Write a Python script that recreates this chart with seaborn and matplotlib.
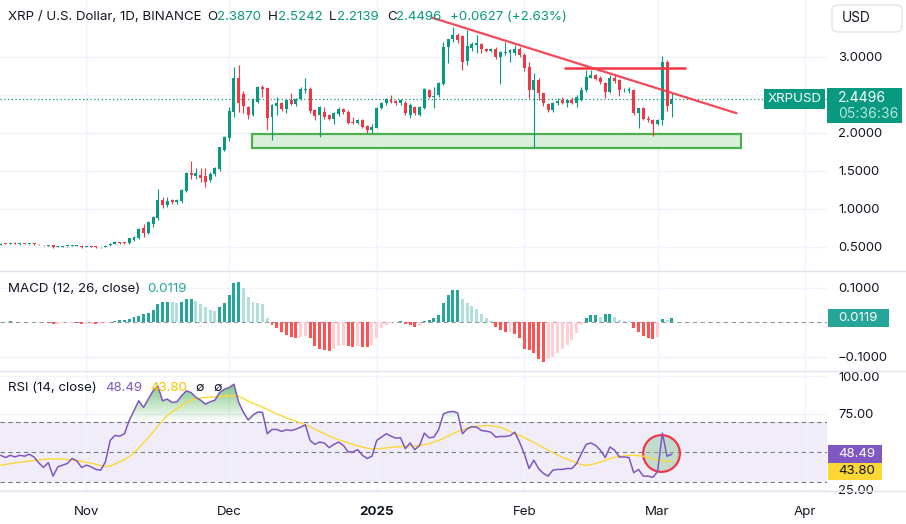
import numpy as np
import pandas as pd
import matplotlib
matplotlib.use('Agg')
import matplotlib.pyplot as plt
import seaborn as sns
from matplotlib.patches import Rectangle, FancyBboxPatch
from matplotlib.path import Path
from matplotlib.lines import Line2D

# daily candles, first one is 2024-10-14
first_day = '2024-10-14'
opens = [0.528, 0.548, 0.540, 0.547, 0.538, 0.542, 0.536, 0.541, 0.537, 0.527,
         0.515, 0.528, 0.502, 0.504, 0.511, 0.513, 0.516, 0.519, 0.505, 0.510,
         0.505, 0.494, 0.503, 0.520, 0.545, 0.560, 0.555, 0.549, 0.595, 0.614,
         0.746, 0.680, 0.800, 0.880, 1.118, 1.053, 1.115, 1.090, 1.100, 1.240,
         1.480, 1.440, 1.450, 1.430, 1.380, 1.460, 1.520, 1.780, 1.940, 2.280,
         2.724, 2.510, 2.340, 2.237, 2.412, 2.601, 2.588, 2.206, 2.355, 2.390,
         2.311, 2.430, 2.380, 2.443, 2.560, 2.580, 2.300, 2.240, 2.280, 2.237,
         2.190, 2.250, 2.310, 2.280, 2.150, 2.136, 2.170, 2.090, 2.040, 2.070,
         2.325, 2.390, 2.447, 2.420, 2.390, 2.400, 2.237, 2.340, 2.237, 2.325,
         2.566, 2.480, 2.500, 2.645, 3.136, 3.232, 3.290, 3.270, 2.950, 3.120,
         3.160, 3.170, 3.100, 3.080, 3.110, 3.000, 3.050, 3.050, 3.050, 3.110,
         3.030, 2.870, 2.566, 2.700, 2.520, 2.380, 2.300, 2.390, 2.430, 2.390,
         2.430, 2.400, 2.430, 2.560, 2.730, 2.760, 2.730, 2.660, 2.540, 2.730,
         2.700, 2.560, 2.555, 2.570, 2.260, 2.325, 2.190, 2.170, 2.120, 2.170,
         2.940, 2.3870]
highs = [0.550, 0.555, 0.550, 0.560, 0.548, 0.548, 0.545, 0.548, 0.542, 0.532,
         0.522, 0.530, 0.512, 0.512, 0.518, 0.520, 0.522, 0.522, 0.515, 0.512,
         0.508, 0.506, 0.520, 0.550, 0.575, 0.562, 0.560, 0.620, 0.640, 0.745,
         0.800, 0.840, 0.910, 1.263, 1.160, 1.160, 1.130, 1.130, 1.260, 1.490,
         1.630, 1.540, 1.540, 1.535, 1.490, 1.550, 1.820, 1.960, 2.346, 2.870,
         2.890, 2.550, 2.360, 2.456, 2.618, 2.630, 2.600, 2.380, 2.478, 2.410,
         2.450, 2.520, 2.460, 2.600, 2.720, 2.600, 2.320, 2.360, 2.340, 2.250,
         2.270, 2.340, 2.330, 2.300, 2.210, 2.190, 2.180, 2.100, 2.120, 2.340,
         2.410, 2.460, 2.500, 2.440, 2.450, 2.420, 2.400, 2.360, 2.360, 2.590,
         2.580, 2.600, 2.670, 3.200, 3.240, 3.400, 3.320, 3.290, 3.355, 3.200,
         3.290, 3.190, 3.120, 3.120, 3.130, 3.080, 3.200, 3.100, 3.160, 3.130,
         3.050, 2.940, 2.790, 2.720, 2.530, 2.400, 2.410, 2.460, 2.480, 2.450,
         2.470, 2.500, 2.610, 2.830, 2.830, 2.780, 2.750, 2.670, 2.760, 2.760,
         2.710, 2.590, 2.600, 2.580, 2.330, 2.340, 2.220, 2.180, 2.180, 3.010,
         2.960, 2.5242]
lows = [0.520, 0.535, 0.535, 0.535, 0.532, 0.535, 0.532, 0.532, 0.530, 0.515,
        0.510, 0.490, 0.498, 0.498, 0.505, 0.510, 0.512, 0.488, 0.500, 0.498,
        0.490, 0.490, 0.500, 0.515, 0.535, 0.545, 0.540, 0.545, 0.583, 0.610,
        0.636, 0.670, 0.760, 0.860, 1.010, 1.030, 1.070, 1.070, 1.080, 1.220,
        1.390, 1.400, 1.350, 1.285, 1.350, 1.440, 1.500, 1.760, 1.900, 2.210,
        2.280, 2.260, 2.180, 2.230, 2.400, 2.478, 2.039, 1.908, 2.237, 2.290,
        2.260, 2.370, 2.360, 2.430, 2.520, 2.260, 2.170, 1.950, 2.190, 2.170,
        2.120, 2.230, 2.250, 2.120, 2.120, 2.120, 2.070, 1.996, 1.996, 2.060,
        2.310, 2.370, 2.390, 2.370, 2.370, 2.240, 2.200, 2.240, 2.220, 2.310,
        2.460, 2.330, 2.480, 2.630, 2.925, 3.200, 3.180, 2.830, 2.900, 3.080,
        3.050, 3.050, 3.060, 3.060, 2.980, 2.650, 3.030, 2.940, 3.030, 3.000,
        2.820, 2.460, 1.800, 2.430, 2.355, 2.280, 2.280, 2.370, 2.380, 2.340,
        2.380, 2.340, 2.420, 2.540, 2.720, 2.700, 2.640, 2.460, 2.520, 2.660,
        2.490, 2.540, 2.530, 2.240, 2.060, 2.170, 2.150, 1.960, 2.100, 2.100,
        2.290, 2.2139]
closes = [0.545, 0.540, 0.547, 0.540, 0.543, 0.538, 0.539, 0.535, 0.533, 0.520,
          0.518, 0.500, 0.508, 0.509, 0.514, 0.517, 0.519, 0.494, 0.512, 0.502,
          0.496, 0.503, 0.517, 0.545, 0.560, 0.550, 0.548, 0.614, 0.628, 0.733,
          0.680, 0.833, 0.900, 1.118, 1.053, 1.105, 1.090, 1.120, 1.250, 1.480,
          1.450, 1.470, 1.410, 1.360, 1.460, 1.540, 1.810, 1.950, 2.290, 2.724,
          2.390, 2.350, 2.240, 2.443, 2.601, 2.583, 2.202, 2.368, 2.390, 2.311,
          2.434, 2.380, 2.443, 2.575, 2.580, 2.294, 2.220, 2.340, 2.210, 2.190,
          2.260, 2.310, 2.270, 2.136, 2.136, 2.171, 2.083, 2.040, 2.083, 2.325,
          2.390, 2.447, 2.410, 2.390, 2.434, 2.260, 2.368, 2.260, 2.338, 2.575,
          2.478, 2.490, 2.654, 3.136, 3.232, 3.294, 3.220, 2.930, 3.150, 3.170,
          3.180, 3.100, 3.080, 3.100, 3.000, 3.060, 3.070, 3.090, 3.110, 3.020,
          2.850, 2.566, 2.700, 2.520, 2.390, 2.300, 2.400, 2.420, 2.390, 2.440,
          2.390, 2.480, 2.570, 2.740, 2.760, 2.710, 2.670, 2.540, 2.730, 2.680,
          2.570, 2.570, 2.575, 2.260, 2.325, 2.180, 2.170, 2.120, 2.170, 2.940,
          2.360, 2.4496]

macd_hist = [0.002, 0.002, 0.0025, 0.002, 0.002, 0.0015, 0.0015, 0.001, 0.001, 0.0005,
             -0.001, -0.004, -0.0035, -0.003, -0.0025, -0.002, -0.003, -0.005, -0.0045, -0.004,
             -0.005, -0.0045, -0.002, 0.001, 0.004, 0.007, 0.008, 0.010, 0.014, 0.019,
             0.023, 0.028, 0.036, 0.052, 0.058, 0.060, 0.059, 0.057, 0.058, 0.067,
             0.068, 0.062, 0.053, 0.043, 0.036, 0.034, 0.043, 0.057, 0.079, 0.114,
             0.117, 0.100, 0.074, 0.058, 0.055, 0.052, 0.012, -0.008, -0.017, -0.027,
             -0.038, -0.044, -0.046, -0.043, -0.039, -0.046, -0.070, -0.076, -0.080, -0.083,
             -0.077, -0.070, -0.066, -0.070, -0.071, -0.069, -0.071, -0.073, -0.066, -0.045,
             -0.017, -0.008, -0.002, 0.002, 0.004, -0.006, -0.008, -0.013, -0.011, 0.004,
             0.008, 0.012, 0.021, 0.055, 0.079, 0.094, 0.095, 0.068, 0.057, 0.048,
             0.039, 0.024, 0.012, 0.004, -0.013, -0.022, -0.028, -0.027, -0.034, -0.046,
             -0.078, -0.080, -0.090, -0.107, -0.114, -0.107, -0.100, -0.090, -0.077, -0.066,
             -0.051, -0.032, -0.008, 0.012, 0.021, 0.022, 0.016, 0.023, 0.024, 0.014,
             0.007, 0.005, 0.003, -0.017, -0.027, -0.039, -0.046, -0.048, -0.044, 0.009,
             0.008, 0.0119]

rsi = [47.8, 46.3, 47.8, 46.7, 47.8, 47.2, 48.5, 46.7, 42.8, 39.8,
       43.0, 34.1, 40.2, 41.3, 42.4, 45.7, 44.1, 39.8, 41.3, 40.2,
       38.5, 38.0, 43.5, 57.6, 60.9, 60.4, 62.0, 70.7, 77.2, 83.7,
       79.3, 84.8, 90.2, 93.5, 83.7, 84.8, 82.6, 83.0, 87.0, 90.2,
       89.1, 85.9, 84.1, 81.5, 83.0, 84.1, 89.1, 91.3, 92.4, 94.6,
       82.6, 76.1, 71.0, 74.3, 76.3, 76.1, 62.0, 64.8, 64.8, 63.5,
       64.6, 64.1, 65.0, 66.3, 67.8, 57.6, 55.0, 56.5, 55.9, 52.8,
       55.0, 56.5, 54.3, 50.0, 50.0, 51.5, 47.8, 45.7, 47.2, 57.6,
       59.8, 62.0, 60.4, 59.1, 59.3, 52.2, 55.9, 51.5, 54.3, 62.4,
       59.3, 59.8, 64.6, 75.0, 76.3, 76.7, 75.7, 62.0, 65.2, 66.7,
       66.3, 64.1, 63.7, 63.0, 59.8, 60.2, 60.2, 60.7, 63.0, 56.5,
       48.9, 39.1, 44.6, 39.1, 35.9, 34.1, 38.0, 38.5, 38.5, 39.1,
       39.1, 42.4, 48.9, 55.0, 55.9, 54.3, 51.1, 46.3, 53.3, 51.1,
       46.7, 46.7, 46.3, 36.3, 38.5, 34.1, 34.1, 33.3, 37.0, 62.4,
       47.2, 48.49]
rsi_ma = [41.3, 41.8, 42.3, 42.8, 43.2, 43.6, 44.0, 44.4, 44.8, 45.1,
          45.4, 45.5, 45.5, 45.3, 45.0, 44.7, 44.3, 43.8, 43.2, 42.6,
          41.8, 41.0, 40.4, 40.8, 42.0, 43.5, 45.0, 47.0, 49.5, 52.5,
          56.0, 59.5, 63.0, 67.0, 70.5, 74.0, 76.5, 78.5, 80.5, 82.5,
          84.0, 85.0, 85.5, 85.8, 86.0, 86.2, 86.5, 86.8, 87.0, 87.2,
          86.5, 85.2, 83.5, 82.0, 80.8, 79.5, 78.0, 76.5, 75.0, 73.8,
          72.5, 71.3, 70.2, 69.0, 68.0, 66.5, 65.0, 63.5, 62.0, 60.5,
          59.2, 58.0, 57.0, 56.0, 55.0, 54.0, 53.2, 52.5, 52.0, 52.1,
          52.3, 52.6, 53.0, 53.3, 53.5, 53.8, 54.0, 54.0, 54.2, 54.8,
          55.5, 56.5, 57.5, 59.0, 60.5, 62.0, 63.5, 64.5, 65.5, 66.3,
          66.8, 67.2, 67.4, 67.2, 66.8, 66.2, 65.0, 63.5, 62.0, 61.0,
          59.5, 57.8, 56.3, 54.5, 52.8, 51.2, 49.6, 48.0, 46.5, 45.2,
          44.0, 42.8, 41.6, 41.2, 41.6, 42.4, 43.4, 44.5, 45.6, 46.5,
          47.0, 47.4, 47.7, 47.8, 47.6, 47.2, 46.4, 45.5, 44.6, 44.1,
          43.9, 43.8]

month_starts = ['2024-11-01', '2024-12-01', '2025-01-01', '2025-02-01', '2025-03-01', '2025-04-01']
month_labels = ['Nov', 'Dec', '2025', 'Feb', 'Mar', 'Apr']
price_grid = [0.5, 1.0, 1.5, 2.0, 2.5, 3.0]
price_labels = ['0.5000', '1.0000', '1.5000', '2.0000', '', '3.0000']
macd_grid = [-0.1, 0.1]
macd_labels = ['\u22120.1000', '0.1000']
rsi_grid = [25, 50, 75, 100]
rsi_labels = ['25.00', '', '75.00', '100.00']

# drawings on the chart, x in days from first_day
support_x, support_y = [52.7, 155.5], [1.80, 1.99]
trend_x, trend_y = [90.5, 154.6], [3.52, 2.26]
resist_x, resist_y = [118.6, 143.8], [2.86, 2.86]
circle_x, circle_y = [138.8], [49.6]

GREEN = '#089981'
RED = '#f23645'
TXT = '#131722'
GRID = '#f0f3fa'

sns.set_theme(style='white')
plt.rcParams['font.family'] = ['Inter', 'DejaVu Sans']

df = pd.DataFrame({'open': opens, 'high': highs, 'low': lows, 'close': closes,
                   'hist': macd_hist, 'rsi': rsi, 'rsi_ma': rsi_ma})
df['day'] = np.arange(len(df))
start = pd.Timestamp(first_day)
month_days = [(pd.Timestamp(m) - start).days for m in month_starts]

W, H = 906, 524
fig = plt.figure(figsize=(W / 100, H / 100), dpi=100)
fig.patch.set_facecolor('white')


def frame(top, bottom):
    return [0, 1 - bottom / H, 827 / W, (bottom - top) / H]


def ftext(px, py, s, **kw):
    kw.setdefault('va', 'center')
    kw.setdefault('color', TXT)
    kw.setdefault('fontsize', 9.6)
    fig.text(px / W, 1 - py / H, s, **kw)


def fbox(x0, y0, x1, y1, color):
    fig.add_artist(Rectangle((x0 / W, 1 - y1 / H), (x1 - x0) / W, (y1 - y0) / H,
                             transform=fig.transFigure, facecolor=color, lw=0, zorder=5))


ax_p = fig.add_axes(frame(0, 270))
ax_m = fig.add_axes(frame(271, 370))
ax_r = fig.add_axes(frame(371, 491))
xlim = (-0.15, 173.6)

for ax in (ax_p, ax_m, ax_r):
    ax.set_facecolor('white')
    for s in ax.spines.values():
        s.set_visible(False)
    ax.set_xticks(month_days)
    ax.grid(True, color=GRID, lw=1)
    ax.set_axisbelow(True)
    ax.yaxis.tick_right()
    ax.tick_params(axis='y', length=0, pad=8, labelsize=9.4, labelcolor=TXT)
    ax.tick_params(axis='x', length=0, labelbottom=False)

# price candles
up = df['close'] >= df['open']
cc = np.where(up, GREEN, RED)
ax_p.vlines(df['day'], df['low'], df['high'], colors=cc, lw=0.8, zorder=3)
body = (df['close'] - df['open']).abs().clip(lower=0.012)
ax_p.bar(df['day'], body, bottom=df[['open', 'close']].min(axis=1), width=0.62,
         color=cc, lw=0, zorder=3)
ax_p.axhline(df['close'].iloc[-1], color=GREEN, ls=(0, (1, 2)), lw=0.9, zorder=2)
ax_p.add_patch(Rectangle((support_x[0], support_y[0]), support_x[1] - support_x[0],
                         support_y[1] - support_y[0], facecolor='#daefd9',
                         edgecolor='#4caf50', lw=1.6, zorder=2))
ax_p.plot(trend_x, trend_y, color=RED, lw=1.6, alpha=0.9, zorder=4, solid_capstyle='round')
ax_p.plot(resist_x, resist_y, color=RED, lw=1.8, zorder=4)
ax_p.set_yticks(price_grid)
ax_p.set_yticklabels(price_labels)
ax_p.set_xlim(xlim)
ax_p.set_ylim(0.197, 3.75)

# MACD histogram
prev = df['hist'].shift(1).fillna(0)
hcol = np.where(df['hist'] >= 0,
                np.where(df['hist'] >= prev, '#26a69a', '#b2dfdb'),
                np.where(df['hist'] < prev, '#ff5252', '#ffcdd2'))
ax_m.axhline(0, color='#9598a1', ls=(0, (4, 3)), lw=0.8, zorder=1)
ax_m.bar(df['day'], df['hist'], width=0.62, color=hcol, lw=0, zorder=2)
ax_m.set_yticks(macd_grid)
ax_m.set_yticklabels(macd_labels)
ax_m.set_xlim(xlim)
ax_m.set_ylim(-0.1383, 0.1487)

# RSI
ax_r.axhspan(30, 70, color='#7e57c2', alpha=0.1, lw=0, zorder=0)
for lvl in (70, 50, 30):
    ax_r.axhline(lvl, color='#787b86', ls=(0, (4, 3)), lw=0.8, zorder=1)
ob = ax_r.fill_between(df['day'], df['rsi'], 70, where=df['rsi'] > 70,
                       interpolate=True, facecolor='none', lw=0)
clip = Path.make_compound_path(*ob.get_paths())
grad = np.zeros((100, 1, 4))
grad[..., :3] = matplotlib.colors.to_rgb('#4caf50')
grad[..., 3] = np.linspace(0, 0.85, 100)[:, None]
im = ax_r.imshow(grad, extent=[0, len(df) - 1, 70, 100], origin='lower',
                 aspect='auto', interpolation='bilinear', zorder=1)
im.set_clip_path(clip, ax_r.transData)
ax_r.scatter(circle_x, circle_y, s=700, facecolor=(0.55, 0.78, 0.6, 0.45),
             edgecolor=RED, lw=1.6, zorder=2)
sns.lineplot(data=df, x='day', y='rsi_ma', ax=ax_r, color='#fdd835', lw=1.0, zorder=3)
sns.lineplot(data=df, x='day', y='rsi', ax=ax_r, color='#7e57c2', lw=1.1, zorder=4)
ax_r.set_xlabel('')
ax_r.set_ylabel('')
ax_r.set_yticks(rsi_grid)
ax_r.set_yticklabels(rsi_labels)
ax_r.set_xlim(xlim)
ax_r.set_ylim(24.3, 103.3)
ax_r.tick_params(axis='x', labelbottom=True, pad=10.5, labelsize=9.6, labelcolor=TXT)
ax_r.set_xticklabels(month_labels)
for t in ax_r.get_xticklabels():
    if t.get_text() == '2025':
        t.set_fontweight('bold')

# pane separators
for py in (270.5, 370.5, 491):
    fig.add_artist(Line2D([0, 1], [1 - py / H] * 2, color='#e0e3eb', lw=1,
                          transform=fig.transFigure))

# header legends
ftext(8, 17, 'XRP / U.S. Dollar, 1D, BINANCE')
for px, s, c in [(207, 'O', TXT), (217, '2.3870', GREEN), (268, 'H', TXT),
                 (278, '2.5242', GREEN), (329, 'L', TXT), (337, '2.2139', GREEN),
                 (387, 'C', TXT), (396, '2.4496', GREEN), (450, '+0.0627 (+2.63%)', GREEN)]:
    ftext(px, 17, s, color=c)
ftext(8, 289, 'MACD (12, 26, close)')
ftext(147, 289, '0.0119', color='#26a69a')
ftext(8, 388, 'RSI (14, close)')
ftext(105, 388, '48.49', color='#7e57c2')
ftext(150, 388, '43.80', color='#f5c400')
ftext(195, 388, '\u2205', fontsize=9)
ftext(213, 388, '\u2205', fontsize=9)

# price scale badges
fig.add_artist(FancyBboxPatch((832 / W, 1 - 32 / H), 70 / W, 27 / H,
                              boxstyle='round,pad=0,rounding_size=0.008',
                              transform=fig.transFigure, facecolor='white',
                              edgecolor='#e0e3eb', lw=1))
ftext(842, 18, 'USD', fontsize=9.8)
fbox(764, 89, 825, 109, GREEN)
ftext(794.5, 99, 'XRPUSD', color='white', ha='center', zorder=6)
fbox(827, 88, 902, 123, GREEN)
ftext(838, 98, '2.4496', color='white', fontsize=10, zorder=6)
ftext(838, 114, '05:36:36', color='#b9e6dc', fontsize=10, zorder=6)
fbox(828, 309, 889, 327, '#26a69a')
ftext(838, 318, '0.0119', color='white', zorder=6)
fbox(828, 445, 882, 463, '#7e57c2')
ftext(838, 454, '48.49', color='white', zorder=6)
fbox(828, 463, 882, 480, '#fdd835')
ftext(838, 471.5, '43.80', zorder=6)

fig.savefig('out.png', dpi=100, facecolor='white')
